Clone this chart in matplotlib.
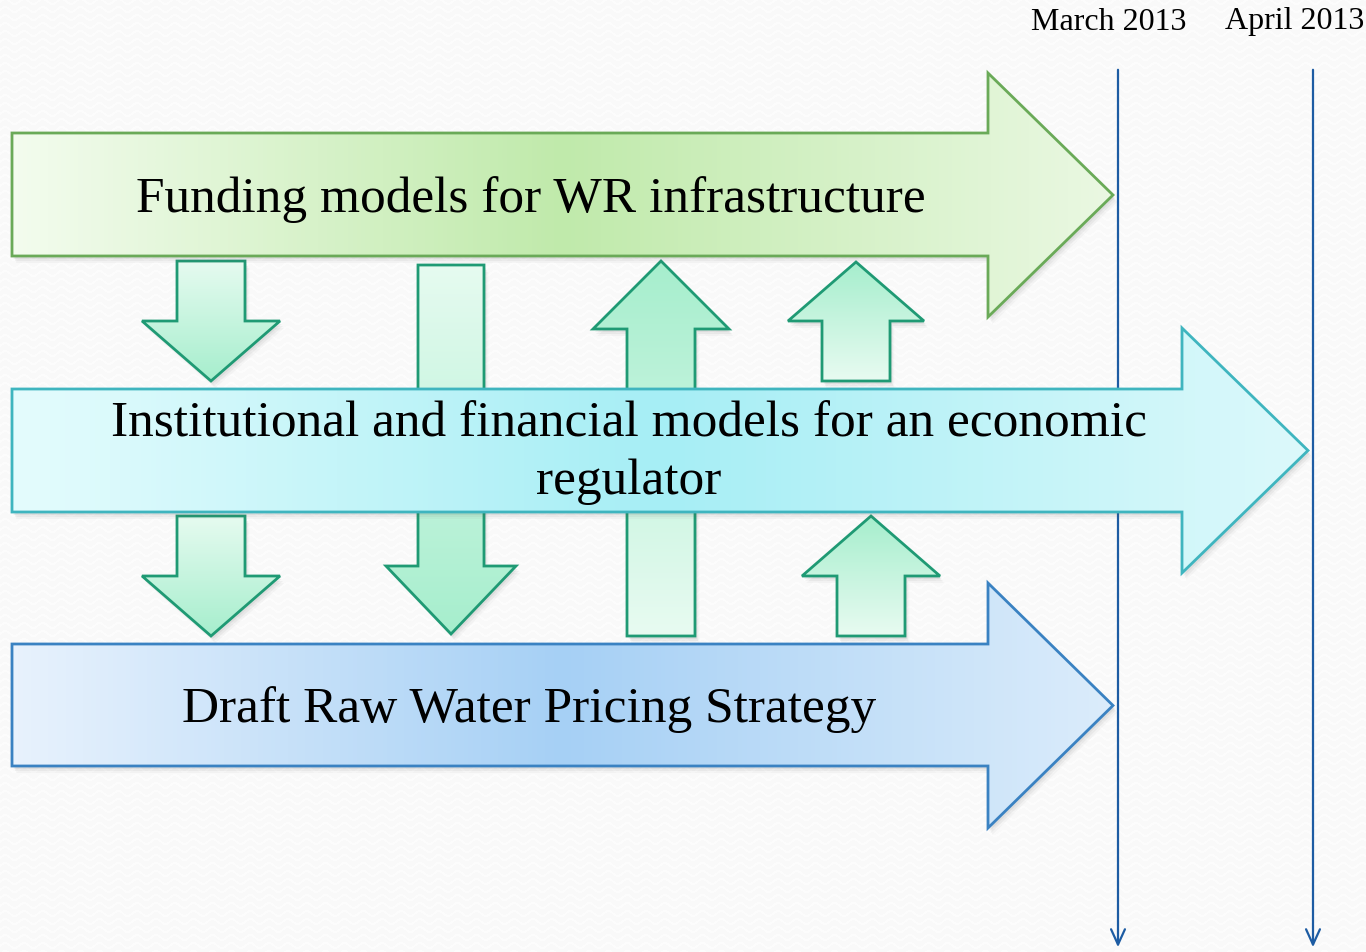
import numpy as np
import matplotlib.pyplot as plt
from matplotlib.patches import Polygon
from matplotlib.colors import LinearSegmentedColormap

# --- contenido del diagrama ---
etiquetas = [
    "Funding models for WR infrastructure",
    "Institutional and financial models for an economic\nregulator",
    "Draft Raw Water Pricing Strategy",
]
fechas = ["March 2013", "April 2013"]
fechas_x = [1118, 1313]
fechas_texto_x = [1109, 1295]

# flechas grandes: (x0, y_arriba, y_abajo, x_cuello, cabeza_arriba, cabeza_abajo, x_punta)
flechas_grandes = [
    (12, 134, 257, 988, 74, 318, 1113),
    (12, 390, 513, 1182, 329, 574, 1308),
    (12, 645, 767, 988, 584, 829, 1113),
]
texto_pos = [(531, 200), (629, 453), (529, 710)]
colores_grandes = [
    (["#f3fcee", "#c0eaab", "#eaf8e2"], "#6aaa58"),
    (["#e4fcfd", "#a6eef5", "#dcf9fb"], "#3fb5bf"),
    (["#e8f2fd", "#a6d0f5", "#dbecfb"], "#3a82c2"),
]

# flechas pequeñas: (x_centro, medio_ancho_cuerpo, medio_ancho_cabeza, y_cola, y_cuello, y_punta)
flechas_chicas = [
    (211, 34, 69, 262, 322, 382),
    (451, 33, 65, 266, 567, 635),
    (211, 34, 69, 517, 577, 637),
    (661, 34, 68, 637, 330, 262),
    (856, 34, 68, 382, 322, 263),
    (871, 34, 69, 637, 577, 517),
]

W, H = 1366, 953
fig = plt.figure(figsize=(13.66, 9.53), dpi=100)
ax = fig.add_axes([0, 0, 1, 1])
ax.set_xlim(0, W)
ax.set_ylim(H, 0)
ax.axis("off")

# fondo con textura ondulada muy suave
yy, xx = np.mgrid[0:H, 0:W]
onda = np.sin((yy + 2.5 * np.sin(xx / 3.0)) * 2 * np.pi / 8.0)
fondo = 0.975 + 0.012 * (onda > 0.6)
ax.imshow(fondo, cmap="gray", vmin=0, vmax=1, extent=(0, W, H, 0), zorder=0, interpolation="nearest")


def relleno_gradiente(pts, colores, orient, zorder):
    pts = np.array(pts, dtype=float)
    x0, x1 = pts[:, 0].min(), pts[:, 0].max()
    y0, y1 = pts[:, 1].min(), pts[:, 1].max()
    cmap = LinearSegmentedColormap.from_list("g", colores)
    if orient == "h":
        grad = np.tile(np.linspace(0, 1, 256), (2, 1))
    else:
        grad = np.tile(np.linspace(0, 1, 256)[:, None], (1, 2))
    im = ax.imshow(grad, cmap=cmap, extent=(x0, x1, y1, y0), aspect="auto", zorder=zorder,
                   interpolation="bilinear")
    clip = Polygon(pts, closed=True, facecolor="none", edgecolor="none", transform=ax.transData)
    ax.add_patch(clip)
    im.set_clip_path(clip)


def sombra(pts, zorder):
    pts = np.array(pts, dtype=float)
    for d, a in [(7, 0.04), (5, 0.06), (3, 0.08)]:
        ax.add_patch(Polygon(pts + [d * 0.6, d], closed=True, facecolor="#555555", edgecolor="none",
                             alpha=a, zorder=zorder))


# flechas pequeñas (debajo de las grandes)
for cx, sw, hw, cola, cuello, punta in flechas_chicas:
    pts = [(cx - sw, cola), (cx + sw, cola), (cx + sw, cuello), (cx + hw, cuello),
           (cx, punta), (cx - hw, cuello), (cx - sw, cuello)]
    sombra(pts, 1)
    if punta > cola:
        cols = ["#e6fbf0", "#a6eecd"]
    else:
        cols = ["#a6eecd", "#e8fbf1"]
    relleno_gradiente(pts, cols, "v", 2)
    ax.add_patch(Polygon(pts, closed=True, facecolor="none", edgecolor="#1f9a74", lw=2.0, zorder=3))

# lineas de tiempo
for x, tx, txt in zip(fechas_x, fechas_texto_x, fechas):
    ax.annotate("", xy=(x, 951), xytext=(x, 68),
                arrowprops=dict(arrowstyle="->,head_length=1.1,head_width=0.5", color="#1d5ca3", lw=1.6),
                zorder=4)
    ax.text(tx, 22, txt, ha="center", va="center", fontsize=23,
            family="Liberation Serif", color="black", zorder=4)

# flechas grandes
for (x0, yt, yb, xn, ht, hb, tip), (cols, borde), txt, (tx, ty) in zip(
        flechas_grandes, colores_grandes, etiquetas, texto_pos):
    pts = [(x0, yt), (xn, yt), (xn, ht), (tip, (ht + hb) / 2), (xn, hb), (xn, yb), (x0, yb)]
    sombra(pts, 5)
    relleno_gradiente(pts, cols, "h", 6)
    ax.add_patch(Polygon(pts, closed=True, facecolor="none", edgecolor=borde, lw=2.0, zorder=7))
    ax.text(tx, ty, txt, ha="center", va="center", fontsize=37, family="Liberation Serif",
            color="black", linespacing=1.3, zorder=8)

fig.savefig("out.png", dpi=100, facecolor="white")
